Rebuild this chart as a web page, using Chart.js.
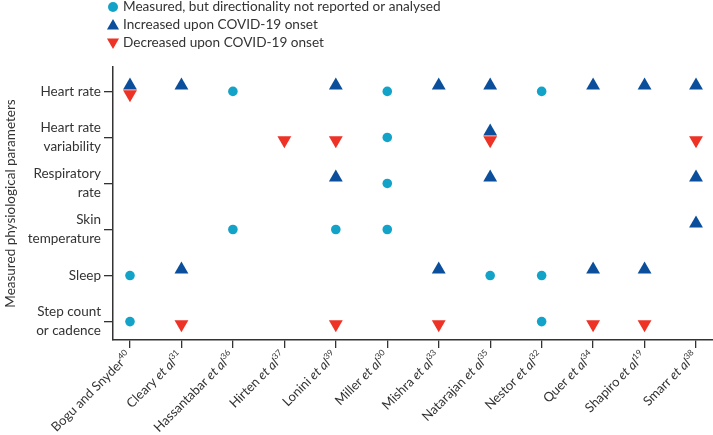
<!DOCTYPE html>
<html>
<head>
<meta charset="utf-8">
<title>Physiological parameters by study</title>
<script src="https://cdn.jsdelivr.net/npm/chart.js@4.4.0/dist/chart.umd.min.js"></script>
<style>
  html, body { margin: 0; padding: 0; background: #fff; overflow: hidden; }
  #wrap { width: 713px; height: 435px; position: relative; }
  canvas { display: block; }
</style>
</head>
<body>
<div id="wrap"><canvas id="chart"></canvas></div>
<script>
// studies along the x axis, with their reference numbers
const studies = ['Bogu and Snyder', 'Cleary et al', 'Hassantabar et al', 'Hirten et al', 'Lonini et al',
  'Miller et al', 'Mishra et al', 'Natarajan et al', 'Nestor et al', 'Quer et al', 'Shapiro et al', 'Smarr et al'];
const refs = ['40', '31', '36', '37', '39', '30', '33', '35', '32', '34', '19', '38'];

// parameters, top to bottom
const params = [['Heart rate'], ['Heart rate', 'variability'], ['Respiratory', 'rate'],
  ['Skin', 'temperature'], ['Sleep'], ['Step count', 'or cadence']];

// for each study: indexes into params
const measured  = [[4, 5], [], [0, 3], [], [3], [0, 1, 2, 3], [], [4], [0, 4, 5], [], [], []];
const increased = [[0], [0, 4], [], [], [0, 2], [], [0, 4], [0, 1, 2], [], [0, 4], [0, 4], [0, 2, 3]];
const decreased = [[0], [5], [], [1], [1, 5], [], [5], [1], [], [5], [5], [1]];

const seriesNames = ['Measured, but directionality not reported or analysed',
  'Increased upon COVID-19 onset', 'Decreased upon COVID-19 onset'];

const FONT = 'Lato';
const TEXT = '#333333';

function rowValue(p) { return params.length - 1 - p; }

function points(lists, shift) {
  const pts = [];
  lists.forEach((rows, i) => {
    rows.forEach(p => pts.push({ x: i, y: rowValue(p) + shift }));
  });
  return pts;
}

// legend drawn above the plot, stacked like the original
const stackedLegend = {
  id: 'stackedLegend',
  afterDraw(chart) {
    const ctx = chart.ctx;
    const x0 = chart.chartArea.left;
    ctx.save();
    ctx.font = '13.6px ' + FONT;
    ctx.textBaseline = 'middle';
    chart.data.datasets.forEach((ds, i) => {
      const y = 7 + i * 18;
      ctx.fillStyle = ds.backgroundColor;
      Chart.helpers.drawPoint(ctx, {
        pointStyle: ds.pointStyle,
        radius: ds.legendRadius,
        rotation: ds.rotation,
        borderWidth: 0
      }, x0, y + (ds.legendShift || 0));
      ctx.fillStyle = TEXT;
      ctx.fillText(ds.label, x0 + 10, y);
    });
    ctx.restore();
  }
};

// rotated study labels with italic "et al" and superscript reference
const studyLabels = {
  id: 'studyLabels',
  afterDraw(chart) {
    const ctx = chart.ctx;
    const xs = chart.scales.x;
    const reg = '13px ' + FONT;
    const ital = 'italic 13px ' + FONT;
    const sup = '8.5px ' + FONT;
    ctx.save();
    ctx.fillStyle = TEXT;
    ctx.textBaseline = 'middle';
    ctx.textAlign = 'left';
    studies.forEach((label, i) => {
      const parts = [];
      if (label.endsWith(' et al')) {
        parts.push({ t: label.slice(0, -5), f: reg, dy: 0 });
        parts.push({ t: 'et al', f: ital, dy: 0 });
      } else {
        parts.push({ t: label, f: reg, dy: 0 });
      }
      parts.push({ t: refs[i], f: sup, dy: -4 });
      let total = 0;
      parts.forEach(p => { ctx.font = p.f; p.w = ctx.measureText(p.t).width; total += p.w; });
      const px = xs.getPixelForValue(i);
      ctx.save();
      ctx.translate(px - 1, xs.top + 14);
      ctx.rotate(-Math.PI / 4);
      let cx = -total;
      parts.forEach(p => {
        ctx.font = p.f;
        ctx.fillText(p.t, cx, p.dy);
        cx += p.w;
      });
      ctx.restore();
    });
    ctx.restore();
  }
};

const ctx = document.getElementById('chart').getContext('2d');

const chart = new Chart(ctx, {
  type: 'scatter',
  data: {
    datasets: [
      {
        label: seriesNames[0],
        data: points(measured, 0),
        pointStyle: 'circle',
        pointRadius: 4.8,
        legendRadius: 5,
        backgroundColor: '#14a3c8',
        borderWidth: 0
      },
      {
        label: seriesNames[1],
        data: points(increased, 0.13),
        pointStyle: 'triangle',
        pointRadius: 8,
        legendRadius: 7,
        legendShift: 1,
        rotation: 0,
        backgroundColor: '#0b4f9c',
        borderWidth: 0
      },
      {
        label: seriesNames[2],
        data: points(decreased, -0.06),
        pointStyle: 'triangle',
        pointRadius: 8,
        legendRadius: 7,
        legendShift: -1,
        rotation: 180,
        backgroundColor: '#ee3226',
        borderWidth: 0
      }
    ]
  },
  options: {
    responsive: true,
    maintainAspectRatio: false,
    animation: false,
    layout: { autoPadding: false, padding: { top: 67, right: 0, bottom: 87, left: 0 } },
    plugins: {
      legend: { display: false },
      tooltip: { enabled: false }
    },
    elements: { point: { hoverRadius: 8 } },
    scales: {
      x: {
        type: 'linear',
        min: -0.33,
        max: 11.33,
        afterBuildTicks(scale) {
          scale.ticks = studies.map((s, i) => ({ value: i }));
        },
        ticks: { display: false },
        grid: { drawOnChartArea: false, drawTicks: true, tickLength: 8, color: '#333', lineWidth: 1.3 },
        border: { display: true, color: '#333', width: 1.5 }
      },
      y: {
        type: 'linear',
        min: -0.4,
        max: 5.53,
        afterBuildTicks(scale) {
          scale.ticks = params.map((p, i) => ({ value: i }));
        },
        afterFit(scale) { scale.width = 113; },
        ticks: {
          padding: 3,
          color: TEXT,
          font: { family: FONT, size: 13.5, lineHeight: 1.4 },
          callback: v => params[params.length - 1 - v]
        },
        grid: { drawOnChartArea: false, drawTicks: true, tickLength: 9, color: '#333', lineWidth: 1.3 },
        border: { display: true, color: '#333', width: 1.5 },
        title: {
          display: true,
          text: 'Measured physiological parameters',
          color: TEXT,
          font: { family: FONT, size: 13.5 },
          padding: { top: 3, bottom: 0 }
        }
      }
    }
  },
  plugins: [stackedLegend, studyLabels]
});
</script>
</body>
</html>
